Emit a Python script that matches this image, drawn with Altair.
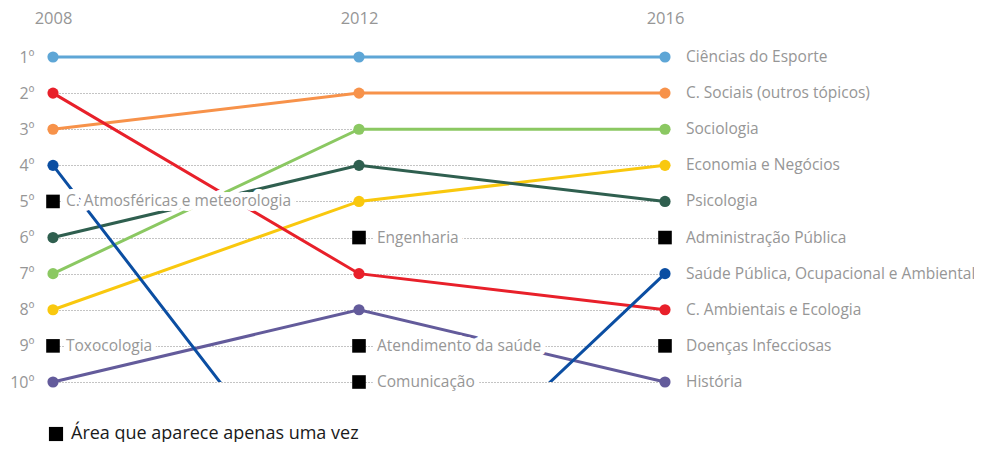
import json
import altair as alt
import pandas as pd

years = [2008, 2012, 2016]
areas = [
    "Ciências do Esporte",
    "C. Sociais (outros tópicos)",
    "Sociologia",
    "Economia e Negócios",
    "Psicologia",
    "Saúde Pública, Ocupacional e Ambiental",
    "C. Ambientais e Ecologia",
    "História",
]
rank_2008 = [1, 3, 7, 8, 6, 4, 2, 10]
rank_2012 = [1, 2, 3, 5, 4, 15, 7, 8]   # Saúde Pública fora do top 10 em 2012
rank_2016 = [1, 2, 3, 4, 5, 7, 8, 10]
colors = ["#5ea6d6", "#f7924a", "#8bc862", "#f9c80e", "#2f5f4f", "#0b4ea2", "#e8202a", "#635b9b"]

single_areas = [
    "C. Atmosféricas e meteorologia",
    "Toxocologia",
    "Engenharia",
    "Atendimento da saúde",
    "Comunicação",
    "Administração Pública",
    "Doenças Infecciosas",
]
single_years = [2008, 2008, 2012, 2012, 2012, 2016, 2016]
single_ranks = [5, 9, 6, 9, 10, 6, 9]

rank_labels = ["1º", "2º", "3º", "4º", "5º", "6º", "7º", "8º", "9º", "10º"]
legend_label = "Área que aparece apenas uma vez"

FONT = "Open Sans"
GRAY = "#969696"
FS = 15.5

rows = []
for i, a in enumerate(areas):
    for y, r in zip(years, [rank_2008[i], rank_2012[i], rank_2016[i]]):
        rows.append({"area": a, "year": y, "rank": r, "order": years.index(y)})
lines_df = pd.DataFrame(rows)
single_df = pd.DataFrame({"area": single_areas, "year": single_years, "rank": single_ranks,
                          "kind": [legend_label] * len(single_areas)})

x_enc = alt.X("year:Q",
              scale=alt.Scale(domain=[2008, 2016], nice=False, zero=False),
              axis=alt.Axis(orient="top", values=years, format="d", title=None, domain=False,
                            ticks=False, grid=False, labelPadding=31, labelFontSize=16.5,
                            labelFlush=False, labelColor=GRAY, labelFont=FONT,
                            labelFontWeight="normal"))
y_enc = alt.Y("rank:Q",
              scale=alt.Scale(domain=[1, 10], reverse=True, nice=False, zero=False),
              axis=alt.Axis(values=list(range(1, 11)), title=None, domain=False, ticks=False,
                            labelExpr=json.dumps(rank_labels, ensure_ascii=False) + "[datum.value - 1]",
                            labelPadding=19, labelFontSize=16, labelColor=GRAY, labelFont=FONT,
                            grid=True, gridDash=[1, 2], gridColor="#888888", gridWidth=1))

color_enc = alt.Color("area:N", scale=alt.Scale(domain=areas, range=colors), legend=None)

saude = areas[5]
base_lines = alt.Chart(lines_df)

lines = base_lines.transform_filter(alt.datum.area != saude).mark_line(strokeWidth=3).encode(
    x=x_enc, y=y_enc, color=color_enc, detail="area:N", order="order:Q")
saude_line = base_lines.transform_filter(alt.datum.area == saude).mark_line(strokeWidth=3, clip=True).encode(
    x=x_enc, y=y_enc, color=color_enc, order="order:Q")

points = base_lines.transform_filter(alt.datum.rank <= 10).mark_circle(size=125, opacity=1).encode(
    x=x_enc, y=y_enc, color=color_enc)

squares = alt.Chart(single_df).mark_point(shape="square", filled=True, size=185, color="black",
                                          opacity=1).encode(
    x=x_enc, y=y_enc,
    shape=alt.Shape("kind:N", scale=alt.Scale(domain=[legend_label], range=["square"]),
                    legend=alt.Legend(orient="none", legendX=-6, legendY=368, title=None,
                                      symbolType="square", symbolSize=200,
                                      symbolFillColor="black", symbolStrokeColor="black",
                                      labelFontSize=18, labelColor="#1a1a1a", labelFont=FONT,
                                      labelLimit=0, labelOffset=6)))

right_labels = alt.Chart(lines_df).transform_filter(alt.datum.year == 2016).mark_text(
    align="left", baseline="middle", dx=21, fontSize=FS, font=FONT, color=GRAY).encode(
    x=x_enc, y=y_enc, text="area:N")

single_text_layers = []
halo_layers = []
for yr, dx in [(2008, 13), (2012, 18), (2016, 21)]:
    sel = alt.Chart(single_df).transform_filter(alt.datum.year == yr)
    halo_layers.append(sel.mark_text(
        align="left", baseline="middle", dx=dx, fontSize=FS, font=FONT, fill="white",
        stroke="white", strokeWidth=10, strokeJoin="round").encode(x=x_enc, y=y_enc, text="area:N"))
    single_text_layers.append(sel.mark_text(
        align="left", baseline="middle", dx=dx, fontSize=FS, font=FONT, color=GRAY).encode(
        x=x_enc, y=y_enc, text="area:N"))

chart = alt.layer(
    lines, saude_line, *halo_layers, points, squares, right_labels, *single_text_layers
).properties(
    width=612, height=325,
    autosize=alt.AutoSizeParams(type="none"),
    padding={"left": 45, "top": 49, "right": 309, "bottom": 60},
).configure_view(stroke=None)

chart.save("out.html", embed_options={"renderer": "svg", "actions": False})
